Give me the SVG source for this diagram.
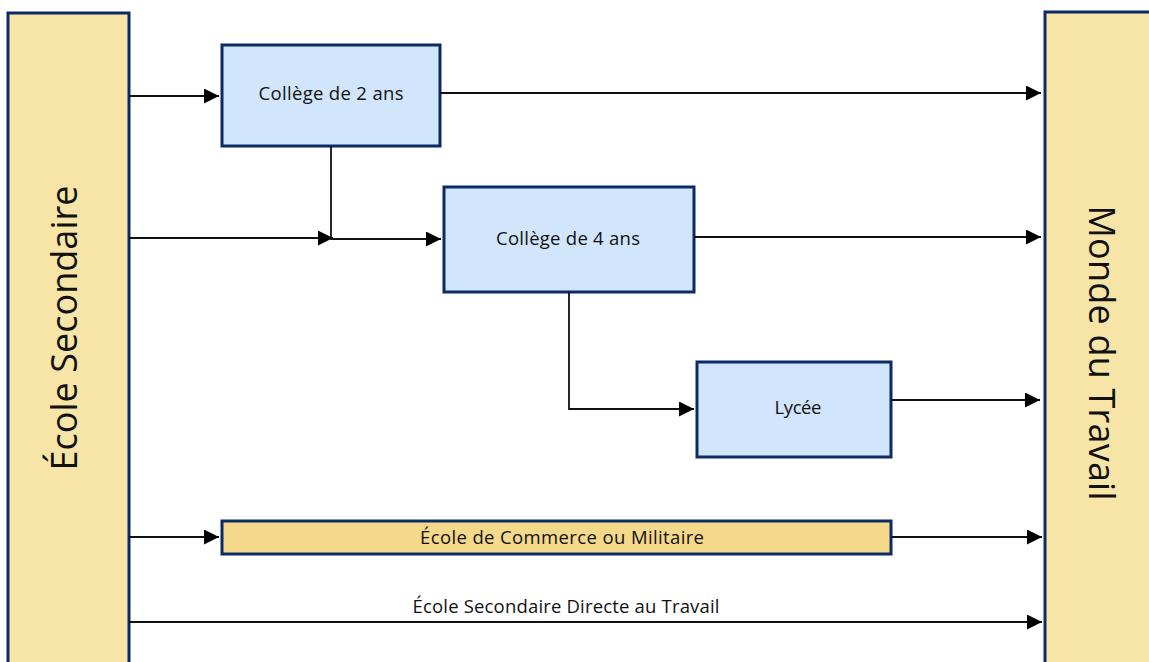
<svg xmlns="http://www.w3.org/2000/svg" width="1149" height="662" viewBox="0 0 1149 662">
<style>
.bar{fill:#f7e4a7;stroke:#0c2a66;stroke-width:3}
.box{fill:#d1e6fc;stroke:#0c2a66;stroke-width:3}
.gold{fill:#f5d98a;stroke:#0c2a66;stroke-width:3}
.ln{fill:none;stroke:#111;stroke-width:1.8}
text{font-family:"Open Sans","Liberation Sans",sans-serif;fill:#111}
.t{font-size:18.5px;text-anchor:middle}
.big{font-size:36px;text-anchor:middle}
</style>
<defs>
<marker id="ah" viewBox="0 0 10 10" refX="10" refY="5" markerWidth="15" markerHeight="15" markerUnits="userSpaceOnUse" orient="auto">
<path d="M0,0 L10,5 L0,10 z" fill="#000"/>
</marker>
</defs>
<g id="ecole-secondaire">
<rect class="bar" x="8" y="13" width="121" height="660"/>
<text class="big" transform="translate(77,328) rotate(-90)" textLength="285">École Secondaire</text>
</g>
<g id="monde-du-travail">
<rect class="bar" x="1045" y="12" width="120" height="660"/>
<text class="big" transform="translate(1089,353) rotate(90)" textLength="295">Monde du Travail</text>
</g>
<g id="college-2">
<rect class="box" x="222" y="45" width="218" height="101"/>
<text class="t" x="331" y="100" textLength="145">Collège de 2 ans</text>
</g>
<g id="college-4">
<rect class="box" x="444" y="187" width="250" height="105"/>
<text class="t" x="568" y="245" textLength="144">Collège de 4 ans</text>
</g>
<g id="lycee">
<rect class="box" x="697" y="362" width="194" height="95"/>
<text class="t" x="798" y="414" textLength="47">Lycée</text>
</g>
<g id="commerce">
<rect class="gold" x="222" y="521" width="669" height="33"/>
<text class="t" x="562" y="544" textLength="284">École de Commerce ou Militaire</text>
</g>
<g id="connectors">
<path class="ln" d="M129,96 H219" marker-end="url(#ah)"/>
<path class="ln" d="M440,93 H1041" marker-end="url(#ah)"/>
<path class="ln" d="M129,238 H333" marker-end="url(#ah)"/>
<path class="ln" d="M331,146 V239 H441" marker-end="url(#ah)"/>
<path class="ln" d="M694,237 H1041" marker-end="url(#ah)"/>
<path class="ln" d="M569,292 V409 H694" marker-end="url(#ah)"/>
<path class="ln" d="M891,400 H1040" marker-end="url(#ah)"/>
<path class="ln" d="M129,537 H219" marker-end="url(#ah)"/>
<path class="ln" d="M892,537 H1042" marker-end="url(#ah)"/>
<path class="ln" d="M129,622 H1042" marker-end="url(#ah)"/>
<text class="t" x="566" y="613" textLength="307">École Secondaire Directe au Travail</text>
</g>
</svg>
